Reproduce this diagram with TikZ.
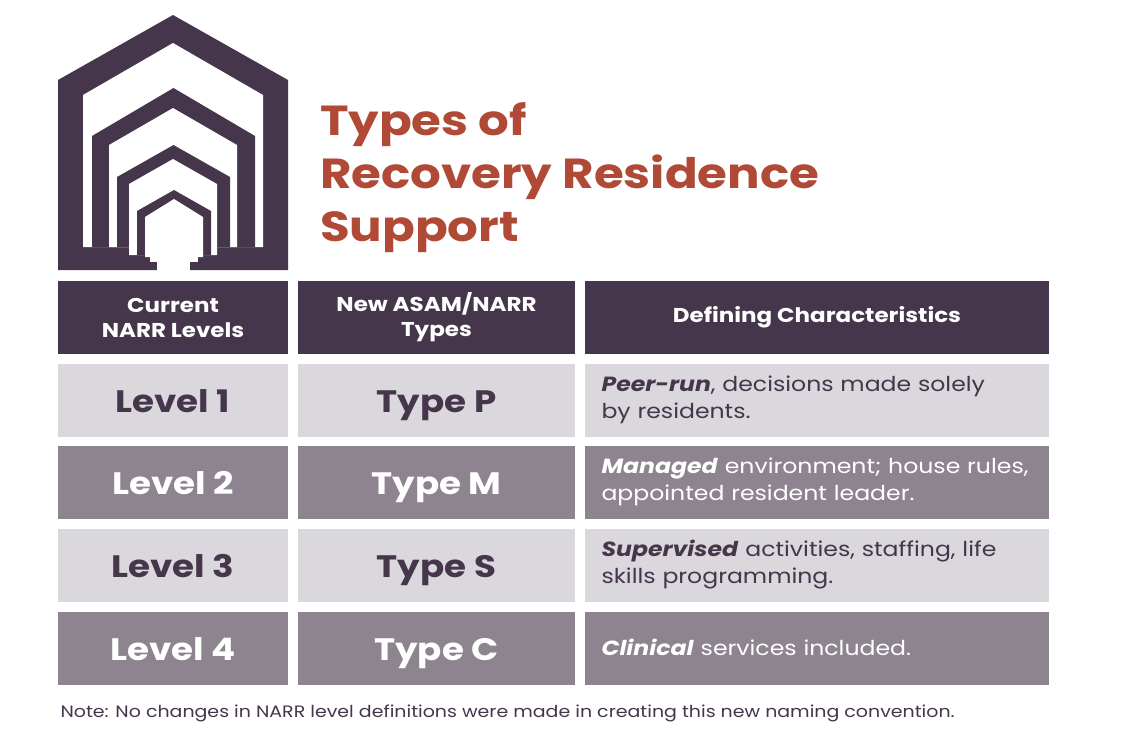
\documentclass[tikz,border=0pt]{standalone}
\usepackage{fontspec}
\setmainfont{Poppins}[FakeStretch=1.15]
\definecolor{dk}{HTML}{45364B}
\definecolor{lt}{HTML}{DAD8DC}
\definecolor{md}{HTML}{8E8490}
\definecolor{rd}{HTML}{B04A36}
\begin{document}
\begin{tikzpicture}[x=1pt,y=-1pt,
  cell/.style={anchor=north west,inner sep=0pt,outer sep=0pt},
  lvl/.style={font=\fontsize{31}{34}\selectfont\bfseries,anchor=base},
  hd/.style={font=\fontsize{20}{25}\selectfont\bfseries,text=white,align=center},
  ch/.style={font=\fontsize{20.5}{27}\selectfont,align=left,text width=450pt}]
\useasboundingbox (0,0) rectangle (1132,745);
\fill[white] (0,0) rectangle (1132,745);
% logo
\def\pent#1#2#3#4#5#6{\fill[#1] (#2,#6) -- (#2,#5) -- ({(#2+#3)/2},#4) -- (#3,#5) -- (#3,#6) -- cycle;}
\pent{dk}{58}{288}{15}{80}{270}
\pent{white}{83}{263}{43}{95}{247}
\pent{dk}{92}{255}{88}{136}{247}
\pent{white}{109}{237}{108}{145}{247}
\pent{dk}{117}{230}{145}{177}{247}
\pent{white}{129}{217}{159}{184}{255}
\pent{dk}{137}{211}{190}{211}{255}
\pent{white}{145}{203}{199}{217}{257}
\fill[white] (150,256) rectangle (198,262);
\fill[white] (157,261) rectangle (190,270.5);
% title
\node[cell,anchor=west,text=rd,font=\fontsize{42}{53}\selectfont\bfseries,align=left] (title) at (320,178) {Types of\\Recovery Residence\\Support};
% header
\fill[dk] (58,281) rectangle (288,354); \node[hd] (h1) at (173,317.5) {Current\\NARR Levels};
\fill[dk] (298,281) rectangle (575,354); \node[hd] (h2) at (436.5,317.5) {New ASAM/NARR\\Types};
\fill[dk] (585,281) rectangle (1049,354); \node[hd] (h3) at (817,317.5) {Defining Characteristics};
% rows
\foreach \y/\c/\t/\l/\ty [count=\i] in {364/lt/dk/Level 1/Type P, 446/md/white/Level 2/Type M, 529/lt/dk/Level 3/Type S, 612/md/white/Level 4/Type C}{
  \fill[\c] (58,\y) rectangle (288,\y+73);
  \fill[\c] (298,\y) rectangle (575,\y+73);
  \fill[\c] (585,\y) rectangle (1049,\y+73);
  \node[lvl,text=\t] (l\i) at (173,\y+48) {\l};
  \node[lvl,text=\t] (t\i) at (436.5,\y+48) {\ty};
}
\node[ch,text=dk,anchor=west] (c1) at (598,400) {\textbf{\itshape Peer-run}, decisions made solely\\by residents.};
\node[ch,text=white,anchor=west] (c2) at (598,482) {\textbf{\itshape Managed} environment; house rules,\\appointed resident leader.};
\node[ch,text=dk,anchor=west] (c3) at (598,565) {\textbf{\itshape Supervised} activities, staffing, life\\skills programming.};
\node[ch,text=white,anchor=west] (c4) at (598,647) {\textbf{\itshape Clinical} services included.};
\node[anchor=west,text=dk,font=\fontsize{16.5}{18}\selectfont] (note) at (57,713) {Note: No changes in NARR level definitions were made in creating this new naming convention.};
\end{tikzpicture}
\end{document}
